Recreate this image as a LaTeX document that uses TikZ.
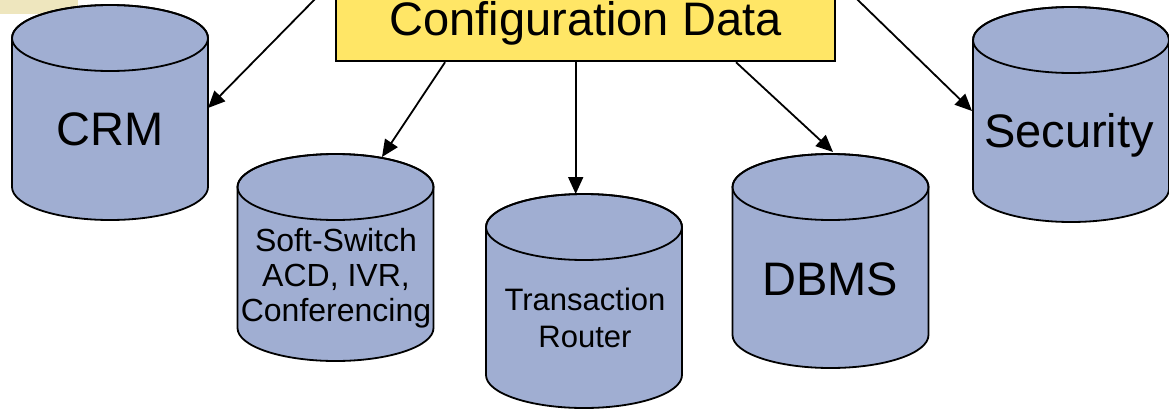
\documentclass[tikz,border=0pt]{standalone}
\usepackage{fontspec}
\setmainfont{Liberation Sans}
\usetikzlibrary{arrows.meta,calc}
\definecolor{cylfill}{RGB}{160,174,210}
\definecolor{boxfill}{RGB}{255,230,102}
\definecolor{logofill}{RGB}{238,230,190}
\tikzset{
  cylbody/.style={fill=cylfill,draw=black,line width=1.8pt,line join=round},
  cfgbox/.style={rectangle,fill=boxfill,draw=black,line width=2.5pt,minimum width=499pt,minimum height=106pt,inner sep=0pt},
  bigtext/.style={inner sep=0pt,font=\fontsize{47}{56}\selectfont},
  smalltext/.style={inner sep=0pt,align=center},
  conn/.style={line width=1.8pt,-{Triangle[length=17pt,width=15pt]}}
}
% \dbcyl{name}{cx}{cy top-ellipse centre, px}{height}
\newcommand\dbcyl[4]{%
  \path[cylbody] (#2-98,-#3) -- (#2-98,-#3-#4)
    arc[start angle=180,end angle=360,x radius=98pt,y radius=33pt]
    -- (#2+98,-#3)
    arc[start angle=0,end angle=180,x radius=98pt,y radius=33pt] -- cycle;
  \draw[line width=1.8pt] (#2,-#3) ellipse[x radius=98pt,y radius=33pt];
  \coordinate (#1) at (#2,-#3);
}
\begin{document}
\begin{tikzpicture}[x=1pt,y=1pt]
\useasboundingbox (0,-410) rectangle (1169,0);
\clip (0,-410) rectangle (1169,0);
\fill[logofill] (0,-14) rectangle (78,0);
% cylinders
\dbcyl{crm}{110}{38}{149}
\dbcyl{soft}{335.5}{187}{141}
\dbcyl{tr}{584}{227}{148}
\dbcyl{dbms}{830.5}{187}{148}
\dbcyl{sec}{1071}{40}{149}
% arrow targets on the cylinders
\coordinate (crmE) at (208,-108);
\coordinate (softT) at (382,-157);
\coordinate (trT) at (575.7,-194);
\coordinate (dbmsT) at (833,-152);
\coordinate (secW) at (972,-111);
% texts
\node[bigtext,anchor=base] (crmt) at (110,-145) {CRM};
\node[bigtext,anchor=base] (sect) at (1069,-147) {Security};
\node[bigtext,anchor=base] (dbmst) at (830,-295) {DBMS};
\node[smalltext,anchor=north,font=\fontsize{32}{35}\selectfont] (softt) at (336,-228)
  {Soft-Switch\\ACD, IVR,\\Conferencing};
\node[smalltext,anchor=north,font=\fontsize{31}{37}\selectfont] (trt) at (585,-288)
  {Transaction\\Router};
% configuration box
\node[cfgbox] (cfg) at (585.5,-8) {};
\node[bigtext,anchor=base] (cfgt) at (585.5,-35) {Configuration Data};
% connectors
\draw[conn] ([yshift=29pt]cfg.west) -- (crmE);
\draw[conn] ([xshift=-140.5pt]cfg.south) -- (softT);
\draw[conn] ([xshift=-9.8pt]cfg.south) -- (trT);
\draw[conn] ([xshift=150.5pt]cfg.south) -- (dbmsT);
\draw[conn] ([yshift=29pt]cfg.east) -- (secW);
\end{tikzpicture}
\end{document}
